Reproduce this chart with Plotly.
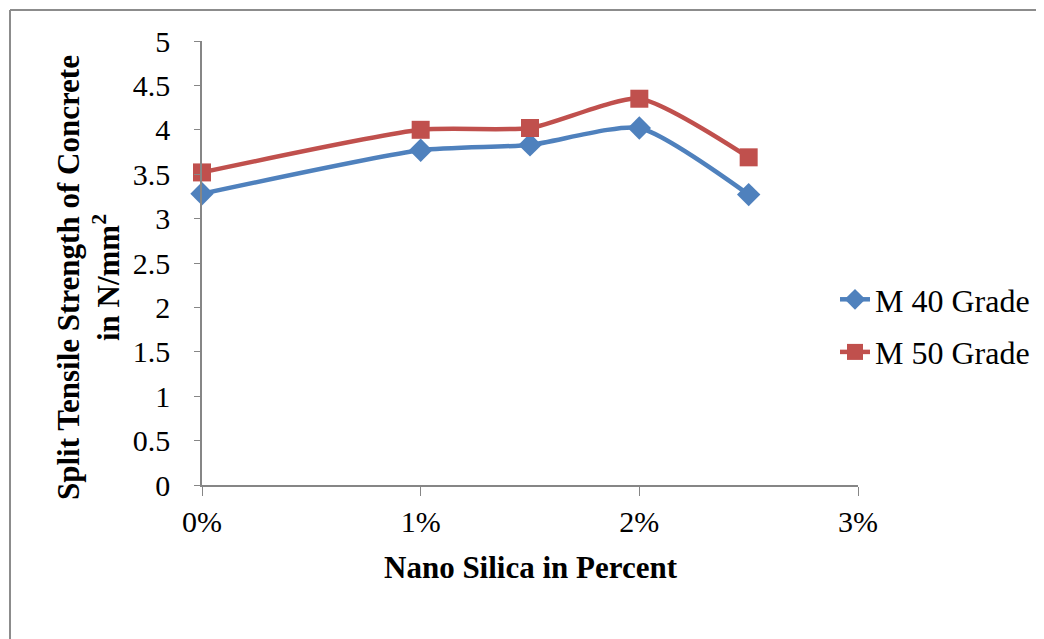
import plotly.graph_objects as go

nano_silica = [0, 1, 1.5, 2, 2.5]
m40 = [3.28, 3.77, 3.83, 4.02, 3.27]
m50 = [3.52, 4.00, 4.02, 4.35, 3.69]
series_names = ["M 40 Grade", "M 50 Grade"]
x_ticks = [0, 1, 2, 3]
x_tick_labels = ["0%", "1%", "2%", "3%"]
y_ticks = [0, 0.5, 1, 1.5, 2, 2.5, 3, 3.5, 4, 4.5, 5]
y_tick_labels = ["0", "0.5", "1", "1.5", "2", "2.5", "3", "3.5", "4", "4.5", "5"]

FONT = "Liberation Serif, Times New Roman, serif"
AXIS = "#868686"

fig = go.Figure()
fig.add_trace(go.Scatter(
    x=nano_silica, y=m40, name=series_names[0], mode="lines+markers",
    legendgroup="a",
    line=dict(color="#4F81BD", width=4.5, shape="spline", smoothing=0.6),
    marker=dict(symbol="diamond", size=18, color="#4F81BD"),
    cliponaxis=False,
))
fig.add_trace(go.Scatter(
    x=nano_silica, y=m50, name=series_names[1], mode="lines+markers",
    legendgroup="b",
    line=dict(color="#C0504D", width=4.5, shape="spline", smoothing=0.6),
    marker=dict(symbol="square", size=18, color="#C0504D"),
    cliponaxis=False,
))

# reference pixel geometry (page is rendered with an 8px body offset)
OFF = 8
W, H = 1044, 639
PL, PR, PT, PB = 202, 858, 41, 485
L, T = PL - OFF, PT - OFF
R, B = W - (PR - OFF), H - (PB - OFF)
pw, ph = PR - PL, PB - PT

def px_x(p):
    return (p - PL) / pw

def px_y(p):
    return (PB - p) / ph

fig.update_layout(
    width=W, height=H,
    margin=dict(l=L, r=R, t=T, b=B),
    paper_bgcolor="white", plot_bgcolor="white",
    font=dict(family=FONT, size=30, color="black"),
    showlegend=True,
    legend=dict(x=px_x(835), y=px_y(326), xanchor="left", yanchor="middle",
                font=dict(family=FONT, size=32, color="black"),
                bgcolor="rgba(0,0,0,0)", traceorder="grouped",
                tracegroupgap=8, itemwidth=30),
    xaxis=dict(range=[0, 3], tickvals=x_ticks, ticktext=x_tick_labels,
               showgrid=False, zeroline=False, showline=True, linecolor=AXIS,
               linewidth=1.5, ticks="outside", ticklen=9, tickcolor=AXIS,
               ticklabelstandoff=0,
               tickfont=dict(family=FONT, size=30, color="black")),
    yaxis=dict(range=[0, 5], tickvals=y_ticks, ticktext=y_tick_labels,
               showgrid=False, zeroline=False, showline=True, linecolor=AXIS,
               linewidth=1.5, ticks="outside", ticklen=6, tickcolor=AXIS,
               ticklabelstandoff=18,
               tickfont=dict(family=FONT, size=30, color="black")),
    annotations=[
        dict(text="<b>Split Tensile Strength of Concrete<br>in N/mm<sup>2</sup></b>",
             xref="paper", yref="paper", x=px_x(88), y=px_y(278),
             xanchor="center", yanchor="middle", textangle=-90, showarrow=False,
             font=dict(family=FONT, size=31, color="black")),
        dict(text="<b>Nano Silica in Percent</b>",
             xref="paper", yref="paper", x=px_x(531), y=px_y(567),
             xanchor="center", yanchor="middle", showarrow=False,
             font=dict(family=FONT, size=31, color="black")),
    ],
    shapes=[
        dict(type="line", xref="paper", yref="paper", x0=px_x(10), x1=px_x(W + 20),
             y0=px_y(10), y1=px_y(10), line=dict(color="#8c8c8c", width=2)),
        dict(type="line", xref="paper", yref="paper", x0=px_x(10), x1=px_x(10),
             y0=px_y(10), y1=px_y(H + 20), line=dict(color="#8c8c8c", width=2)),
    ],
)

fig.write_html("out.html")
